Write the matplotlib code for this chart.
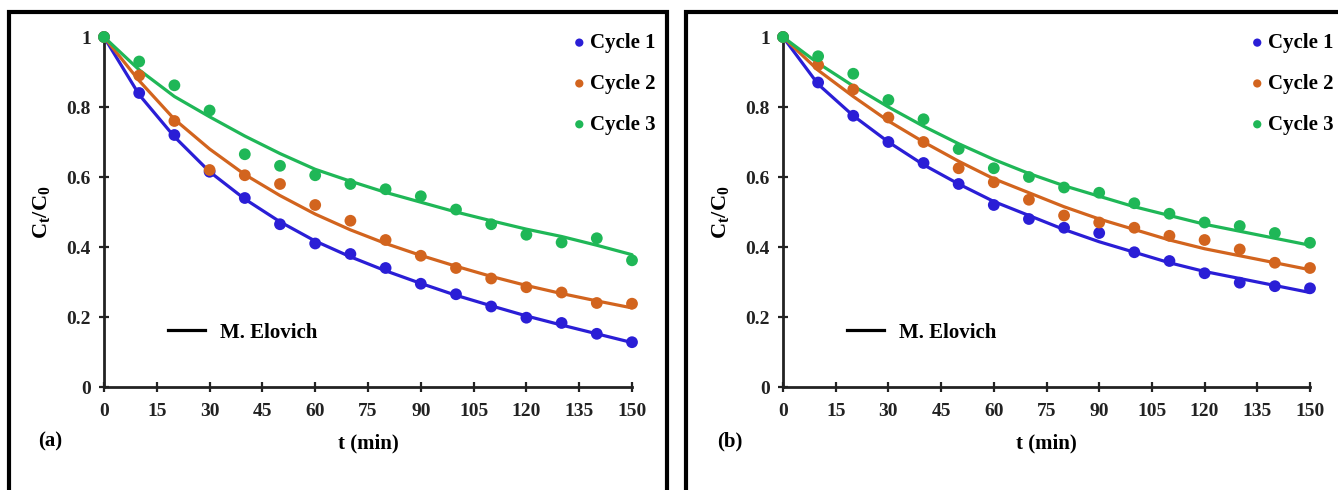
import matplotlib
matplotlib.use("Agg")
import matplotlib.pyplot as plt
from matplotlib.lines import Line2D
from matplotlib.patches import Rectangle

plt.rcParams['font.family'] = ['Liberation Serif', 'DejaVu Serif']
plt.rcParams['font.weight'] = 'bold'
plt.rcParams['mathtext.fontset'] = 'custom'
plt.rcParams['mathtext.rm'] = 'Liberation Serif:bold'
plt.rcParams['mathtext.bf'] = 'Liberation Serif:bold'

# Sampling times (min)
t = [0, 10, 20, 30, 40, 50, 60, 70, 80, 90, 100, 110, 120, 130, 140, 150]

# Panel (a): measured Ct/C0
a_c1 = [1, 0.84, 0.72, 0.615, 0.54, 0.465, 0.41, 0.38, 0.34, 0.295, 0.265, 0.23, 0.198, 0.183, 0.152, 0.128]
a_c2 = [1, 0.89, 0.76, 0.62, 0.605, 0.58, 0.52, 0.475, 0.42, 0.375, 0.34, 0.31, 0.285, 0.27, 0.24, 0.238]
a_c3 = [1, 0.93, 0.862, 0.79, 0.665, 0.632, 0.605, 0.58, 0.565, 0.545, 0.507, 0.465, 0.435, 0.413, 0.425, 0.362]
# Panel (a): modified Elovich fits
a_f1 = [1, 0.835, 0.715, 0.615, 0.537, 0.472, 0.417, 0.372, 0.332, 0.296, 0.262, 0.232, 0.203, 0.177, 0.152, 0.127]
a_f2 = [1, 0.875, 0.765, 0.68, 0.607, 0.547, 0.494, 0.449, 0.41, 0.376, 0.345, 0.316, 0.29, 0.267, 0.246, 0.226]
a_f3 = [1, 0.906, 0.83, 0.772, 0.717, 0.667, 0.622, 0.588, 0.556, 0.528, 0.5, 0.475, 0.451, 0.43, 0.405, 0.378]

# Panel (b): measured Ct/C0
b_c1 = [1, 0.87, 0.775, 0.70, 0.64, 0.58, 0.52, 0.48, 0.455, 0.44, 0.385, 0.36, 0.325, 0.298, 0.288, 0.282]
b_c2 = [1, 0.92, 0.85, 0.77, 0.70, 0.625, 0.585, 0.535, 0.49, 0.47, 0.455, 0.432, 0.42, 0.393, 0.355, 0.34]
b_c3 = [1, 0.945, 0.895, 0.82, 0.765, 0.68, 0.625, 0.60, 0.57, 0.555, 0.525, 0.495, 0.47, 0.46, 0.44, 0.412]
# Panel (b): modified Elovich fits
b_f1 = [1, 0.865, 0.775, 0.70, 0.635, 0.58, 0.53, 0.49, 0.45, 0.415, 0.385, 0.355, 0.33, 0.31, 0.29, 0.27]
b_f2 = [1, 0.905, 0.83, 0.76, 0.70, 0.645, 0.595, 0.555, 0.515, 0.48, 0.45, 0.42, 0.395, 0.375, 0.355, 0.335]
b_f3 = [1, 0.925, 0.86, 0.80, 0.745, 0.695, 0.65, 0.61, 0.575, 0.545, 0.515, 0.49, 0.465, 0.445, 0.425, 0.405]

cycles = ['Cycle 1', 'Cycle 2', 'Cycle 3']
colors = ['#2a1ed6', '#d2641e', '#1fb757']
xticks = [0, 15, 30, 45, 60, 75, 90, 105, 120, 135, 150]
yticks = [0, 0.2, 0.4, 0.6, 0.8, 1.0]
ytick_labels = ['0', '0.2', '0.4', '0.6', '0.8', '1']

W, H = 1338, 490
fig = plt.figure(figsize=(W / 100, H / 100), dpi=100)

# Panel frames
for x0, x1 in [(9, 667), (686, 1345)]:
    fig.add_artist(Rectangle((x0 / W, -0.05), (x1 - x0) / W, 1.05 - 12 / H,
                             transform=fig.transFigure, fill=False,
                             edgecolor='black', linewidth=3, clip_on=False))

panels = [
    (104, 632, 'a', [a_c1, a_c2, a_c3], [a_f1, a_f2, a_f3]),
    (783, 1310, 'b', [b_c1, b_c2, b_c3], [b_f1, b_f2, b_f3]),
]

for px0, px1, tag, meas, fits in panels:
    ax = fig.add_axes([px0 / W, 1 - 387 / H, (px1 - px0) / W, 350 / H])
    handles = []
    for vals, fit, col, name in zip(meas, fits, colors, cycles):
        ax.plot(t, fit, color=col, lw=2.3, solid_capstyle='round', clip_on=False)
        h = ax.scatter(t, vals, s=72, color=col, zorder=3, clip_on=False,
                       edgecolors='none', label=name)
        handles.append(h)
    ax.set_xlim(0, 150)
    ax.set_ylim(0, 1)
    ax.set_xticks(xticks)
    ax.set_yticks(yticks)
    ax.set_yticklabels(ytick_labels)
    for s in ['top', 'right']:
        ax.spines[s].set_visible(False)
    for s in ['left', 'bottom']:
        ax.spines[s].set_linewidth(2)
        ax.spines[s].set_color('#222222')
    ax.tick_params(axis='both', direction='inout', length=7, width=1.6,
                   labelsize=14, color='#222222', labelcolor='#222222')
    ax.tick_params(axis='x', pad=8)
    ax.tick_params(axis='y', pad=6)
    ax.set_xlabel('t (min)', fontsize=15, fontweight='bold', labelpad=10)
    ax.set_ylabel(r'$\mathbf{C_t/C_0}$', fontsize=16, labelpad=10)
    ax.text(-0.125, -0.155, f'({tag})', transform=ax.transAxes,
            fontsize=15, fontweight='bold', ha='left', va='center')

    leg = ax.legend(handles=handles, loc='upper right',
                    bbox_to_anchor=(1.06, 1.035), frameon=False,
                    handlelength=0.4, handletextpad=0.3, labelspacing=1.0,
                    borderaxespad=0, markerscale=0.7,
                    prop={'family': 'Liberation Serif', 'weight': 'bold', 'size': 15})
    ax.add_artist(leg)
    ax.legend(handles=[Line2D([], [], color='black', lw=2.3)],
              labels=['M. Elovich'], loc='center left',
              bbox_to_anchor=(0.105, 0.155), frameon=False,
              handlelength=1.8, handletextpad=0.7, borderaxespad=0,
              prop={'family': 'Liberation Serif', 'weight': 'bold', 'size': 15})

fig.savefig('out.png', dpi=100)
